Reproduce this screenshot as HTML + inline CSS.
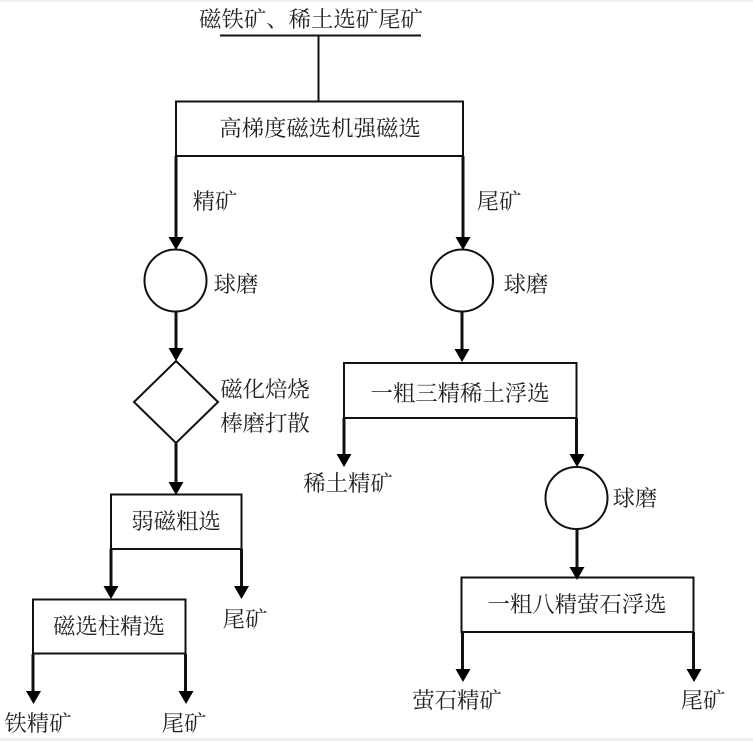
<!DOCTYPE html>
<html lang="zh">
<head>
<meta charset="utf-8">
<style>
html,body{margin:0;padding:0;background:#fff}
svg{display:block}
text{font-family:"Liberation Serif","Noto Serif CJK SC",serif;font-size:22.4px;fill:#222;text-anchor:middle}
.l{stroke:#111;fill:none;stroke-width:2}
.t{stroke:#111;fill:none;stroke-width:3}
.a{fill:#000;stroke:none}
</style>
</head>
<body>
<svg width="753" height="741" viewBox="0 0 753 741" xmlns="http://www.w3.org/2000/svg">
<rect x="0" y="0" width="753" height="741" fill="#fff"/>
<rect x="0" y="0" width="753" height="1.5" fill="#eee"/>
<rect x="0" y="738" width="753" height="3" fill="#eee"/>

<!-- top -->
<text x="311" y="27">磁铁矿、稀土选矿尾矿</text>
<path class="l" d="M220 35.5H421"/>
<path class="l" d="M318.500 36V101"/>

<!-- box 1 -->
<rect class="l" x="176" y="101.500" width="287" height="54.500"/>
<text x="320" y="136">高梯度磁选机强磁选</text>
<text x="215" y="209">精矿</text>
<text x="499" y="209">尾矿</text>

<!-- left branch -->
<path class="t" d="M176 156V240"/>
<path class="a" d="M168.500 237H183.500L176 250Z"/>
<circle class="l" cx="175.500" cy="280.500" r="31"/>
<text x="236" y="292">球磨</text>
<path class="t" d="M176 312V350"/>
<path class="a" d="M168.500 348H183.500L176 361Z"/>
<path class="l" d="M176 361L218 402L176 443L134 402Z"/>
<text x="265" y="397">磁化焙烧</text>
<text x="265" y="431">棒磨打散</text>
<path class="t" d="M176 443V485"/>
<path class="a" d="M168.500 482H183.500L176 495Z"/>

<!-- box 2 -->
<rect class="l" x="111" y="494.500" width="130.500" height="54.500"/>
<text x="176" y="529">弱磁粗选</text>
<path class="t" d="M111 549V590"/>
<path class="a" d="M103.500 586H118.500L111 599Z"/>
<path class="t" d="M241.500 549V590"/>
<path class="a" d="M234 586H249L241.500 599Z"/>
<text x="245" y="627">尾矿</text>

<!-- box 3 -->
<rect class="l" x="33" y="599.500" width="152.500" height="54"/>
<text x="109" y="634">磁选柱精选</text>
<path class="t" d="M33 654V695"/>
<path class="a" d="M26 691H41L33.500 704Z"/>
<path class="t" d="M185.500 654V695"/>
<path class="a" d="M178.500 691H193.500L186 704Z"/>
<text x="38" y="731">铁精矿</text>
<text x="184" y="731">尾矿</text>

<!-- right branch -->
<path class="t" d="M463 156V240"/>
<path class="a" d="M455.500 237H470.500L463 250Z"/>
<circle class="l" cx="462" cy="280.500" r="31"/>
<text x="526" y="292">球磨</text>
<path class="t" d="M462 312V352"/>
<path class="a" d="M454.500 349H469.500L462 362Z"/>

<!-- box 4 -->
<rect class="l" x="344" y="363" width="232.500" height="55"/>
<text x="460" y="401">一粗三精稀土浮选</text>
<path class="t" d="M344 418V457"/>
<path class="a" d="M336.500 454H351.500L344 467Z"/>
<text x="348" y="491">稀土精矿</text>
<path class="t" d="M576.500 418V457"/>
<path class="a" d="M569.500 454H584.500L577 467Z"/>
<circle class="l" cx="576.500" cy="498" r="31"/>
<text x="635" y="506">球磨</text>
<path class="t" d="M577 529V568"/>
<path class="a" d="M569.500 567H584.500L577 580Z"/>

<!-- box 5 -->
<rect class="l" x="461.500" y="577.500" width="232" height="54.500"/>
<text x="577" y="612">一粗八精萤石浮选</text>
<path class="t" d="M462.500 632V672"/>
<path class="a" d="M455.500 669H470.500L463 682Z"/>
<path class="t" d="M693.500 632V672"/>
<path class="a" d="M686.500 669H701.500L694 682Z"/>
<text x="457" y="708">萤石精矿</text>
<text x="703" y="708">尾矿</text>
</svg>
</body>
</html>
